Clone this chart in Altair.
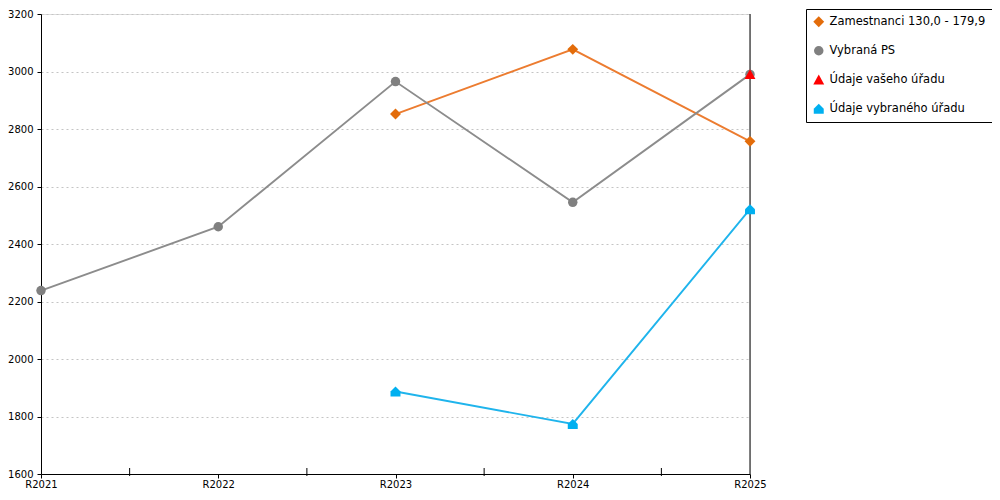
import json
import altair as alt
import pandas as pd

years = [2021, 2022, 2023, 2024, 2025]
series_names = ["Zamestnanci 130,0 - 179,9", "Vybraná PS", "Údaje vašeho úřadu", "Údaje vybraného úřadu"]
zamestnanci = [None, None, 2852, 3077, 2757]
vybrana_ps = [2238, 2460, 2965, 2545, 2990]
vaseho_uradu = [None, None, None, None, 2990]
vybraneho_uradu = [None, None, 1887, 1774, 2521]
y_ticks = [1600, 1800, 2000, 2200, 2400, 2600, 2800, 3000, 3200]

marker_colors = ["#E36C0A", "#808080", "#FF0000", "#00B0F0"]
line_colors = ["#EC7C30", "#8C8C8C", "#FF0000", "#1FB4EC"]
diamond = "M0,-1.15L1.15,0L0,1.15L-1.15,0Z"
triangle = "M0,-1.1L1.15,1L-1.15,1Z"
house = "M-1.05,1.05L1.05,1.05L1.05,0L0,-1.05L-1.05,0Z"
shapes = [diamond, "circle", triangle, house]

rows = []
for name, vals in zip(series_names, [zamestnanci, vybrana_ps, vaseho_uradu, vybraneho_uradu]):
    for yr, v in zip(years, vals):
        if v is not None:
            rows.append({"year": yr, "value": v, "series": name})
df = pd.DataFrame(rows)

mids = pd.DataFrame({"year": [(a + b) / 2 for a, b in zip(years[:-1], years[1:])]})

W, H = 709, 460
FONT = "DejaVu Sans"

x_enc = alt.X("year:Q", scale=alt.Scale(domain=[years[0], years[-1]], nice=False, zero=False),
              axis=alt.Axis(values=years, labelExpr="'R' + datum.value", title=None, grid=False,
                            domainColor="black", tickColor="black", tickSize=4, labelPadding=1,
                            labelFont=FONT, labelFontSize=10, labelColor="black",
                            labelFlush=False))
y_enc = alt.Y("value:Q", scale=alt.Scale(domain=[y_ticks[0], y_ticks[-1]], nice=False, zero=False),
              axis=alt.Axis(values=y_ticks, format="d", title=None, grid=True, gridColor="#C4C4C4",
                            gridDash=[2, 3], domainColor="black", tickColor="black", tickSize=4,
                            labelPadding=4, labelFont=FONT, labelFontSize=10, labelColor="black"))

lines = alt.Chart(df).mark_line(strokeWidth=1.9).encode(
    x=x_enc, y=y_enc,
    color=alt.Color("series:N", scale=alt.Scale(domain=series_names, range=line_colors), legend=None),
    detail="series:N",
)

shape_expr = "{}[indexof({}, datum.value)]".format(
    json.dumps(shapes, ensure_ascii=False), json.dumps(series_names, ensure_ascii=False))

legend = alt.Legend(title=None, orient="none", legendX=765, legendY=-5,
                    strokeColor="black", fillColor="white", padding=7,
                    labelFont=FONT, labelFontSize=11.5, labelColor="black",
                    symbolSize=90, symbolStrokeWidth=0, rowPadding=16,
                    labelLimit=300, labelOffset=5,
                    symbolType=alt.ExprRef(expr=shape_expr))

points = alt.Chart(df).mark_point(filled=True, opacity=1, size=90, strokeWidth=0).encode(
    x="year:Q", y="value:Q",
    color=alt.Color("series:N", scale=alt.Scale(domain=series_names, range=marker_colors), legend=legend),
    shape=alt.Shape("series:N", scale=alt.Scale(domain=series_names, range=shapes), legend=None),
    order=alt.Order("series:N"),
)

right_line = alt.Chart(pd.DataFrame({"year": [years[-1]], "lo": [y_ticks[0]], "hi": [y_ticks[-1]]})).mark_rule(
    color="black", strokeWidth=1).encode(x="year:Q", y="lo:Q", y2="hi:Q")

mid_ticks = alt.Chart(mids).mark_rule(color="black", strokeWidth=1).encode(
    x="year:Q", y=alt.value(H - 6), y2=alt.value(H + 2))

chart = alt.layer(lines, right_line, mid_ticks, points).resolve_scale(color="independent").properties(
    width=W, height=H,
    autosize=alt.AutoSizeParams(type="none"),
    padding={"left": 33, "top": 6, "right": 242, "bottom": 14},
).configure_view(stroke=None).configure(background="white")

chart.save("out.html", embed_options={"renderer": "svg", "actions": False})
